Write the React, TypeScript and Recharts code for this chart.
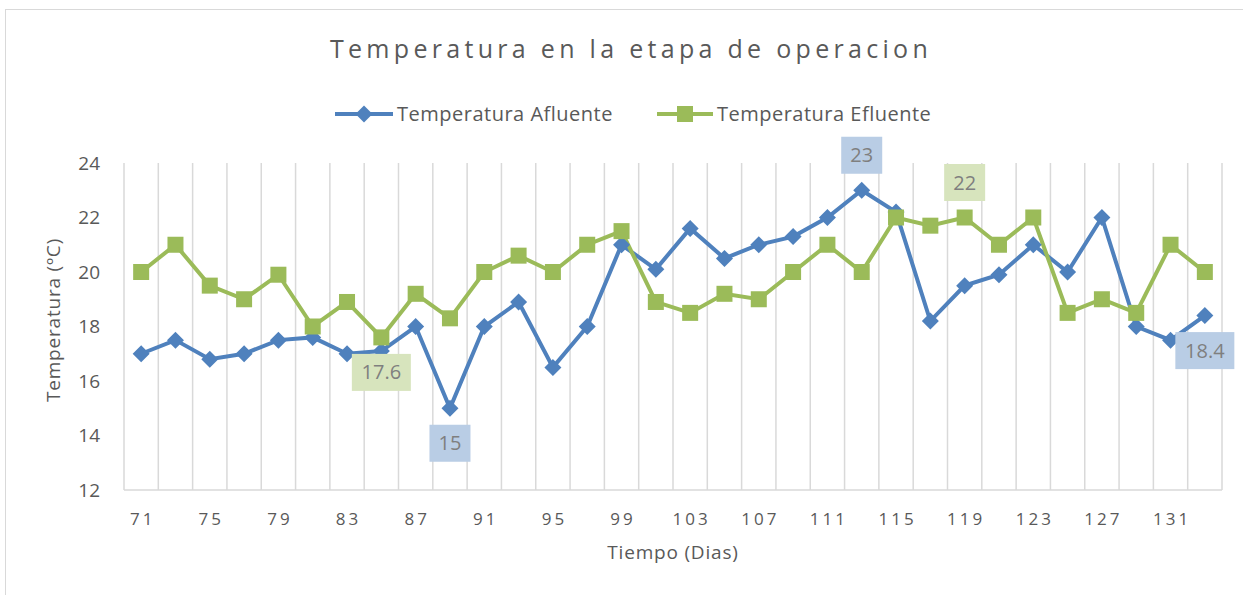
import React from 'react';
import { LineChart, Line, XAxis, YAxis, CartesianGrid, Legend, LabelList } from 'recharts';

const days = [71, 73, 75, 77, 79, 81, 83, 85, 87, 89, 91, 93, 95, 97, 99, 101, 103, 105, 107, 109, 111, 113, 115, 117, 119, 121, 123, 125, 127, 129, 131, 133];
const afluente = [17.0, 17.5, 16.8, 17.0, 17.5, 17.6, 17.0, 17.1, 18.0, 15.0, 18.0, 18.9, 16.5, 18.0, 21.0, 20.1, 21.6, 20.5, 21.0, 21.3, 22.0, 23.0, 22.2, 18.2, 19.5, 19.9, 21.0, 20.0, 22.0, 18.0, 17.5, 18.4];
const efluente = [20.0, 21.0, 19.5, 19.0, 19.9, 18.0, 18.9, 17.6, 19.2, 18.3, 20.0, 20.6, 20.0, 21.0, 21.5, 18.9, 18.5, 19.2, 19.0, 20.0, 21.0, 20.0, 22.0, 21.7, 22.0, 21.0, 22.0, 18.5, 19.0, 18.5, 21.0, 20.0];
const yTicks = [12, 14, 16, 18, 20, 22, 24];
// labelled points: day -> position
const afluenteLabels: Record<number, string> = { 89: 'below', 113: 'above', 133: 'below' };
const efluenteLabels: Record<number, string> = { 85: 'below', 119: 'above' };

const BLUE = '#4F81BD';
const GREEN = '#9BBB59';
const BLUE_BOX = '#B9CDE5';
const GREEN_BOX = '#D7E4BD';
const TEXT = '#595959';
const FONT = "'Open Sans', 'Noto Sans', sans-serif";

const data = days.map((d, i) => ({
  day: d,
  afluente: afluente[i],
  efluente: efluente[i],
  aPos: afluenteLabels[d] || '',
  ePos: efluenteLabels[d] || '',
}));

const Diamond = (props: any) => {
  const { cx, cy } = props;
  if (cx == null || cy == null) return null;
  const r = 8.5;
  return <polygon points={`${cx},${cy - r} ${cx + r},${cy} ${cx},${cy + r} ${cx - r},${cy}`} fill={BLUE} />;
};

const Square = (props: any) => {
  const { cx, cy } = props;
  if (cx == null || cy == null) return null;
  const s = 16;
  return <rect x={cx - s / 2} y={cy - s / 2} width={s} height={s} fill={GREEN} />;
};

const makeLabel = (series: number[], fill: string) => (props: any) => {
  const { x, y, value, index } = props;
  if (!value) return null;
  const v = series[index];
  const txt = String(v);
  const w = txt.length * 9 + 23;
  const h = 37;
  const cy = value === 'above' ? y - 35 : y + 35;
  return (
    <g>
      <rect x={x - w / 2} y={cy - h / 2} width={w} height={h} fill={fill} />
      <text x={x} y={cy} dy="0.35em" textAnchor="middle" fill="#7F7F7F" fontSize={20} fontFamily={FONT}>
        {txt}
      </text>
    </g>
  );
};

const XTick = (props: any) => {
  const { x, y, payload } = props;
  return (
    <text x={x + 1.5} y={y} dy={13} textAnchor="middle" fill={TEXT} fontSize={17} letterSpacing={3} fontFamily={FONT}>
      {payload.value}
    </text>
  );
};

const YTick = (props: any) => {
  const { x, y, payload } = props;
  return (
    <text x={x} y={y} dy="0.35em" textAnchor="end" fill={TEXT} fontSize={19} fontFamily={FONT}>
      {payload.value}
    </text>
  );
};

const LegendContent = () => (
  <div style={{ display: 'flex', alignItems: 'center', fontFamily: FONT, fontSize: 20, letterSpacing: 0.5, color: TEXT, whiteSpace: 'nowrap' }}>
    <svg width={58} height={20} style={{ marginRight: 4 }}>
      <line x1={0} y1={10} x2={58} y2={10} stroke={BLUE} strokeWidth={4} />
      <polygon points="29,1.5 37.5,10 29,18.5 20.5,10" fill={BLUE} />
    </svg>
    <span>Temperatura Afluente</span>
    <svg width={56} height={20} style={{ marginLeft: 44, marginRight: 4 }}>
      <line x1={0} y1={10} x2={56} y2={10} stroke={GREEN} strokeWidth={4} />
      <rect x={20} y={2} width={16} height={16} fill={GREEN} />
    </svg>
    <span>Temperatura Efluente</span>
  </div>
);

export default function App() {
  return (
    <div style={{ position: 'fixed', left: 0, top: 0, width: 1243, height: 595, overflow: 'hidden', background: '#fff' }}>
      <div style={{ position: 'absolute', left: 5, top: 9, width: 1260, height: 620, border: '1.5px solid #D9D9D9' }} />
      <div
        style={{
          position: 'absolute', left: 0, top: 31, width: 1262, textAlign: 'center',
          fontFamily: FONT, fontSize: 25, letterSpacing: 4.3, color: TEXT,
        }}
      >
        Temperatura en la etapa de operacion
      </div>
      <div style={{ position: 'absolute', left: 20, top: 320, width: 0, height: 0 }}>
        <div
          style={{
            position: 'absolute', transform: 'translate(-50%, -50%) rotate(-90deg)', left: 33, top: 0,
            fontFamily: FONT, fontSize: 19, letterSpacing: 0.8, color: TEXT, whiteSpace: 'nowrap',
          }}
        >
          Temperatura (ºC)
        </div>
      </div>
      <div
        style={{
          position: 'absolute', left: 124, top: 539, width: 1098, textAlign: 'center',
          fontFamily: FONT, fontSize: 19, letterSpacing: 0.8, color: TEXT,
        }}
      >
        Tiempo (Dias)
      </div>
      <div style={{ position: 'absolute', left: 0, top: 0 }}>
        <LineChart width={1243} height={595} data={data} margin={{ top: 163, right: 21, left: 0, bottom: 75 }}>
          <CartesianGrid
            horizontal={false}
            stroke="#D9D9D9"
            strokeWidth={1.5}
            verticalCoordinatesGenerator={({ offset }: any) =>
              Array.from({ length: days.length + 1 }, (_, i) => offset.left + (i * offset.width) / days.length)
            }
          />
          <XAxis
            dataKey="day"
            type="category"
            scale="band"
            interval={1}
            height={30}
            tickLine={false}
            axisLine={{ stroke: '#D9D9D9', strokeWidth: 1.5 }}
            tick={<XTick />}
            tickMargin={16}
          />
          <YAxis
            width={124}
            domain={[12, 24]}
            ticks={yTicks}
            axisLine={false}
            tickLine={false}
            tickMargin={18}
            tick={<YTick />}
          />
          <Legend
            verticalAlign="middle"
            layout="horizontal"
            content={<LegendContent />}
            wrapperStyle={{ position: 'absolute', top: 100, left: 335, width: 640, height: 24 }}
          />
          <Line
            type="linear"
            dataKey="afluente"
            name="Temperatura Afluente"
            stroke={BLUE}
            strokeWidth={4}
            dot={<Diamond />}
            activeDot={false}
            isAnimationActive={false}
          >
            <LabelList dataKey="aPos" content={makeLabel(afluente, BLUE_BOX)} />
          </Line>
          <Line
            type="linear"
            dataKey="efluente"
            name="Temperatura Efluente"
            stroke={GREEN}
            strokeWidth={4}
            dot={<Square />}
            activeDot={false}
            isAnimationActive={false}
          >
            <LabelList dataKey="ePos" content={makeLabel(efluente, GREEN_BOX)} />
          </Line>
        </LineChart>
      </div>
    </div>
  );
}
